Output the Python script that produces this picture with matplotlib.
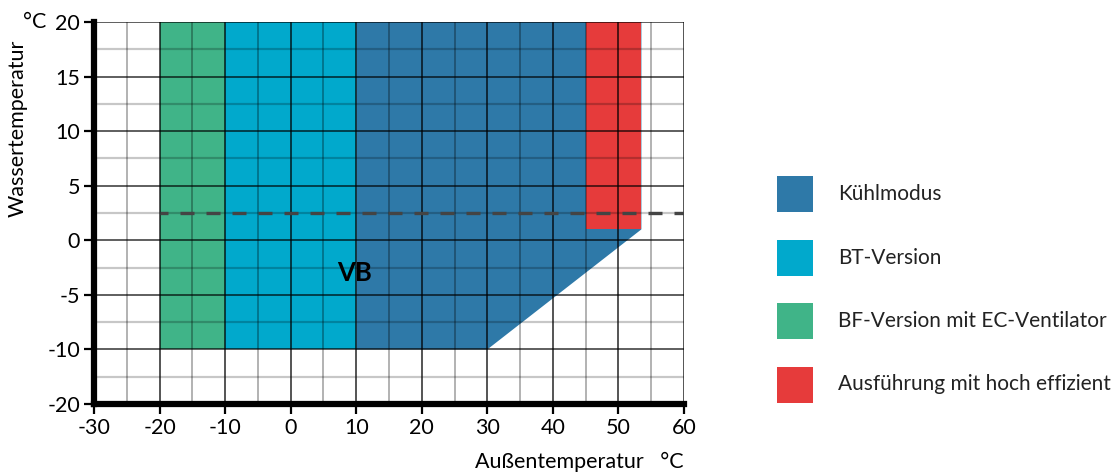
import numpy as np
import matplotlib
matplotlib.use("Agg")
import matplotlib.pyplot as plt
from matplotlib.patches import Polygon, Rectangle

plt.rcParams["font.family"] = ["Lato", "DejaVu Sans"]

# Einsatzgrenzen (Außentemperatur x, Wassertemperatur y)
gruen_x = [-20, -10, -10, -20]
gruen_y = [-10, -10, 20, 20]
bt_x = [-10, 10, 10, -10]
bt_y = [-10, -10, 20, 20]
kuehl_x = [10, 30, 53.5, 53.5, 10]
kuehl_y = [-10, -10, 1, 20, 20]
rot_x = [45, 53.5, 53.5, 45]
rot_y = [1, 1, 20, 20]
grenze_wasser = 2.5
grenze_start = -20

legende_labels = ["Kühlmodus", "BT-Version", "BF-Version mit EC-Ventilator",
                  "Ausführung mit hoch effizient"]
farben = ["#2e79a8", "#01a9cc", "#40b488", "#e63b3b"]

x_ticks = [-30, -20, -10, 0, 10, 20, 30, 40, 50, 60]
y_ticks = [-20, -10, -5, 0, 5, 10, 15, 20]
x_minor = [-25, -15, -5, 5, 15, 25, 35, 45, 55]
y_minor = [-15, -7.5, -2.5, 2.5, 7.5, 12.5, 17.5]


def _fwd(y):
    y = np.asarray(y, dtype=float)
    return np.where(y >= -10, y, -10 + (y + 10) / 2)


def _inv(z):
    z = np.asarray(z, dtype=float)
    return np.where(z >= -10, z, -10 + 2 * (z + 10))


fig = plt.figure(figsize=(11.19, 4.72), dpi=100)
ax = fig.add_axes([94 / 1119, 1 - 404 / 472, 590 / 1119, 382 / 472])
ax.set_yscale("function", functions=(_fwd, _inv))
ax.set_xlim(-30, 60)
ax.set_ylim(-20, 20)

for xs, ys, c in [(kuehl_x, kuehl_y, farben[0]), (bt_x, bt_y, farben[1]),
                  (gruen_x, gruen_y, farben[2]), (rot_x, rot_y, farben[3])]:
    ax.add_patch(Polygon(list(zip(xs, ys)), closed=True, facecolor=c,
                         edgecolor="none", zorder=1))

# Gitter liegt über den Flächen
for v in x_minor:
    ax.axvline(v, color="black", alpha=0.38, lw=1.1, zorder=2)
for h in y_minor:
    ax.axhline(h, color="black", alpha=0.22, lw=1.6, zorder=2)
for v in x_ticks[1:]:
    ax.axvline(v, color="black", alpha=0.85, lw=1.1, zorder=3)
for h in y_ticks[1:]:
    ax.axhline(h, color="black", alpha=0.8, lw=1.1, zorder=3)

ax.plot([grenze_start, 60], [grenze_wasser, grenze_wasser], color="#444444",
        lw=2.4, linestyle=(1.8, (4.2, 3.6)), solid_capstyle="butt", zorder=4)

ax.text(9.8, -3, "VB", fontsize=18.5, fontweight="bold", ha="center",
        va="center", zorder=5)

for s in ["top", "right"]:
    ax.spines[s].set_visible(False)
for s in ["left", "bottom"]:
    ax.spines[s].set_linewidth(4.5)
    ax.spines[s].set_zorder(6)

ax.set_xticks(x_ticks)
ax.set_yticks(y_ticks)
ax.set_xticklabels([str(t) for t in x_ticks])
ax.set_yticklabels([str(t) for t in y_ticks])
ax.minorticks_off()
ax.tick_params(direction="out", length=7, width=1.6, labelsize=15.5, pad=3)

fig.text(18 / 1119, 1 - 128 / 472, "Wassertemperatur", rotation=90,
         ha="center", va="center", fontsize=15.5)
fig.text(35 / 1119, 1 - 22 / 472, "°C", ha="center", va="center",
         fontsize=15.5)
fig.text(684 / 1119, 1 - 462 / 472, "Außentemperatur   °C", ha="right",
         va="center", fontsize=15.5)

# Legende rechts
for i, (lab, c) in enumerate(zip(legende_labels, farben)):
    cy = 194 + i * 63.5
    fig.add_artist(Rectangle((777 / 1119, 1 - (cy + 18) / 472), 36 / 1119,
                             36 / 472, transform=fig.transFigure,
                             facecolor=c, edgecolor="none"))
    fig.text(838 / 1119, 1 - cy / 472, lab, ha="left", va="center",
             fontsize=15, color="#222222")

fig.savefig("out.png", dpi=100)
